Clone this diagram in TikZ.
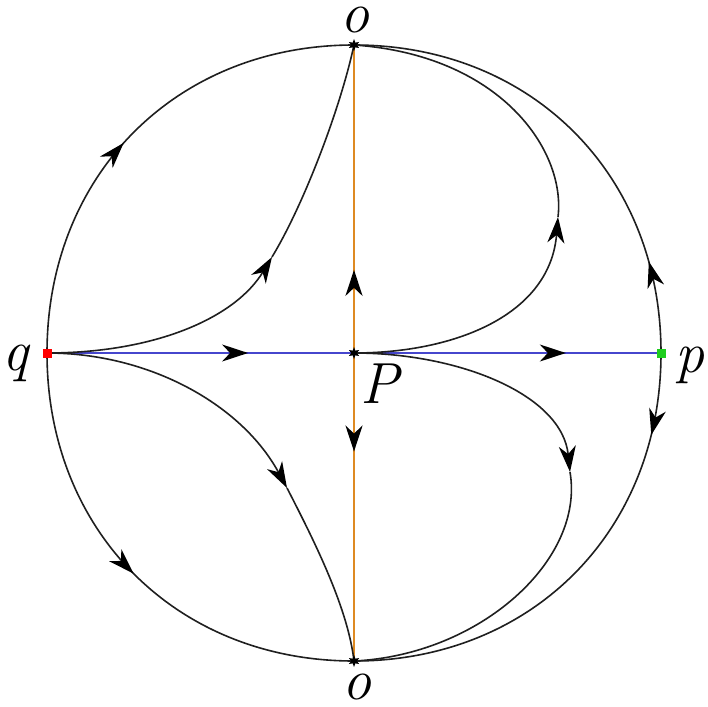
\documentclass[tikz,border=0pt]{standalone}
\usepackage{fontspec}
\usetikzlibrary{arrows.meta,decorations.markings,shapes.geometric}
\definecolor{flowblue}{RGB}{70,70,205}
\definecolor{floworange}{RGB}{222,138,35}
\definecolor{sinkgreen}{RGB}{30,205,30}
\begin{document}
\begin{tikzpicture}[x=1pt,y=-1pt,
  curve/.style={line width=1.6pt, black!88},
  blueline/.style={line width=1.5pt, flowblue},
  orangeline/.style={line width=2.4pt, floworange},
  headtip/.style={-{Stealth[length=26pt,width=17pt,inset=8pt,color=black]}},
  arrowat/.style={postaction={decorate},decoration={markings,mark=at position #1 with {\arrow{Stealth[length=26pt,width=17pt,inset=8pt,color=black]}}}},
  lbl/.style={inner sep=0pt, font=\fontsize{58}{58}\selectfont\itshape},
  crit/.style={star, star points=6, star point ratio=2.2, fill=black, inner sep=0pt, minimum size=12pt},
  endpt/.style={rectangle, inner sep=0pt, minimum size=9pt}
  ]
\useasboundingbox (0,0) rectangle (708,706);
\coordinate (q) at (47,353);
\coordinate (p) at (661,353);
\coordinate (ot) at (354,45);
\coordinate (ob) at (354,661);
\coordinate (P) at (354,353);
\coordinate (j1) at (272,257);
\coordinate (j2) at (558,217);
\coordinate (j3) at (570,472);
\coordinate (j4) at (287,488);
% outer boundary
\draw[curve, arrowat=0.47] (q) .. controls (47,175) and (176,45) .. (ot);
\draw[curve, arrowat=0.19] (p) .. controls (661,175) and (532,45) .. (ot);
\draw[curve, arrowat=0.17] (p) .. controls (661,531) and (532,661) .. (ob);
\draw[curve, arrowat=0.5] (q) .. controls (47,531) and (176,661) .. (ob);
% axes
\draw[blueline, arrowat=0.655] (q) -- (P);
\draw[blueline, arrowat=0.69] (P) -- (p);
\draw[orangeline, arrowat=0.27] (P) -- (ot);
\draw[orangeline, arrowat=0.32] (P) -- (ob);
% inner orbits
\draw[curve, headtip] (q) .. controls (155,353) and (235,318) .. (j1);
\draw[curve] (j1) .. controls (303,206) and (340,110) .. (ot);
\draw[curve, headtip] (P) .. controls (455,353) and (550,315) .. (j2);
\draw[curve] (j2) .. controls (566,150) and (500,55) .. (ot);
\draw[curve, headtip] (P) .. controls (460,353) and (562,395) .. (j3);
\draw[curve] (j3) .. controls (585,560) and (480,655) .. (ob);
\draw[curve, headtip] (q) .. controls (150,353) and (242,405) .. (j4);
\draw[curve] (j4) .. controls (318,548) and (348,610) .. (ob);
% points
\node[crit] (otm) at (ot) {};
\node[crit] (obm) at (ob) {};
\node[crit] (Pm) at (P) {};
\node[endpt, fill=red] (qm) at (q) {};
\node[endpt, fill=sinkgreen] (pm) at (p) {};
% labels
\node[lbl] (lot) at (355,20) {o};
\node[lbl] (lob) at (357,687) {o};
\node[lbl] (lq) at (16,363) {q};
\node[lbl] (lp) at (690,365) {p};
\node[lbl] (lP) at (380,384) {P};
\end{tikzpicture}
\end{document}
